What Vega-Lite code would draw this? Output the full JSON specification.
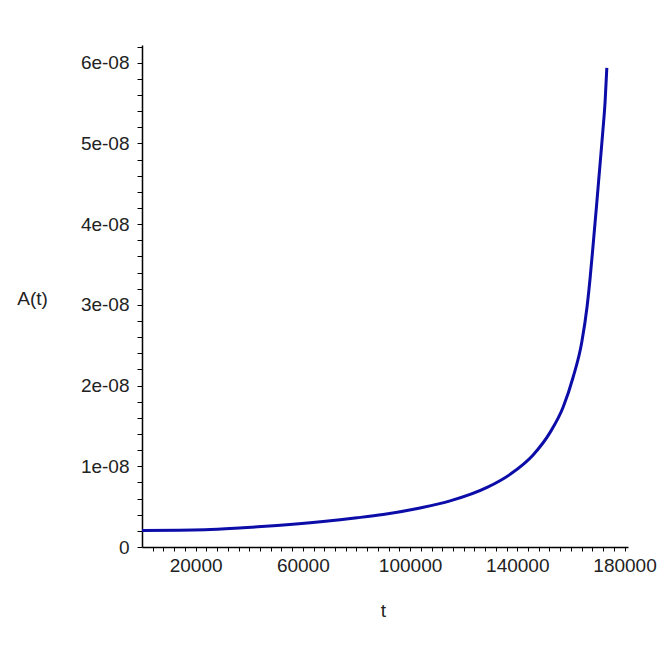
{
  "$schema": "https://vega.github.io/schema/vega-lite/v6.json",
  "autosize": "none",
  "width": 486,
  "height": 502,
  "padding": {"left": 142, "top": 45, "right": 36, "bottom": 117},
  "background": "white",
  "config": {"view": {"stroke": null}},
  "data": {
    "values": [
      {"t": 0, "A": 2.05e-9},
      {"t": 23510, "A": 2.13e-9},
      {"t": 37690, "A": 2.38e-9},
      {"t": 50370, "A": 2.67e-9},
      {"t": 67540, "A": 3.16e-9},
      {"t": 80220, "A": 3.62e-9},
      {"t": 89930, "A": 4.03e-9},
      {"t": 103730, "A": 4.84e-9},
      {"t": 114930, "A": 5.71e-9},
      {"t": 128730, "A": 7.38e-9},
      {"t": 137310, "A": 9.0e-9},
      {"t": 145900, "A": 1.14e-8},
      {"t": 152240, "A": 1.42e-8},
      {"t": 157090, "A": 1.731e-8},
      {"t": 160820, "A": 2.103e-8},
      {"t": 164070, "A": 2.54e-8},
      {"t": 166040, "A": 2.98e-8},
      {"t": 167160, "A": 3.33e-8},
      {"t": 168280, "A": 3.74e-8},
      {"t": 169590, "A": 4.24e-8},
      {"t": 170710, "A": 4.68e-8},
      {"t": 171830, "A": 5.12e-8},
      {"t": 172760, "A": 5.52e-8},
      {"t": 173400, "A": 5.937e-8}
    ]
  },
  "mark": {"type": "line", "color": "#0c0ca8", "strokeWidth": 3, "interpolate": "monotone", "clip": true},
  "encoding": {
    "x": {
      "field": "t",
      "type": "quantitative",
      "scale": {"domain": [0, 181300], "nice": false, "zero": false},
      "axis": {
        "values": [4000, 8000, 12000, 16000, 20000, 24000, 28000, 32000, 36000, 40000, 44000, 48000, 52000, 56000, 60000, 64000, 68000, 72000, 76000, 80000, 84000, 88000, 92000, 96000, 100000, 104000, 108000, 112000, 116000, 120000, 124000, 128000, 132000, 136000, 140000, 144000, 148000, 152000, 156000, 160000, 164000, 168000, 172000, 176000, 180000],
        "labelExpr": "(datum.value - 20000) % 40000 == 0 ? format(datum.value, 'd') : ''",
        "grid": false,
        "domainColor": "black",
        "domainWidth": 1.5,
        "tickColor": "black",
        "tickSize": 4,
        "labelFont": "Liberation Sans",
        "labelFontSize": 19,
        "labelColor": "#222",
        "labelPadding": 5,
        "labelOverlap": false,
        "labelFlush": false,
        "title": "t",
        "titleFont": "Liberation Sans",
        "titleFontSize": 19,
        "titleFontWeight": "normal",
        "titleColor": "#222",
        "titleX": 241,
        "titleY": 63,
        "titleAlign": "center",
        "titleBaseline": "middle"
      }
    },
    "y": {
      "field": "A",
      "type": "quantitative",
      "scale": {"domain": [0, 6.22e-8], "nice": false},
      "axis": {
        "values": [0, 2e-9, 4e-9, 6e-9, 8e-9, 1e-8, 1.2e-8, 1.4e-8, 1.6e-8, 1.8e-8, 2e-8, 2.2e-8, 2.4e-8, 2.6e-8, 2.8e-8, 3e-8, 3.2e-8, 3.4e-8, 3.6e-8, 3.8e-8, 4e-8, 4.2e-8, 4.4e-8, 4.6e-8, 4.8e-8, 5e-8, 5.2e-8, 5.4e-8, 5.6e-8, 5.8e-8, 6e-8, 6.2e-8],
        "labelExpr": "datum.value == 0 ? '0' : (abs(datum.value * 1e8 - round(datum.value * 1e8)) < 1e-6 ? round(datum.value * 1e8) + 'e-08' : '')",
        "grid": false,
        "domainColor": "black",
        "domainWidth": 1.5,
        "tickColor": "black",
        "tickSize": 5,
        "labelFont": "Liberation Sans",
        "labelFontSize": 19,
        "labelColor": "#222",
        "labelPadding": 8,
        "labelOverlap": false,
        "labelFlush": false,
        "title": "A(t)",
        "titleFont": "Liberation Sans",
        "titleFontSize": 19,
        "titleFontWeight": "normal",
        "titleColor": "#222",
        "titleAngle": 0,
        "titleX": -110,
        "titleY": 253,
        "titleAlign": "center",
        "titleBaseline": "middle"
      }
    }
  }
}
